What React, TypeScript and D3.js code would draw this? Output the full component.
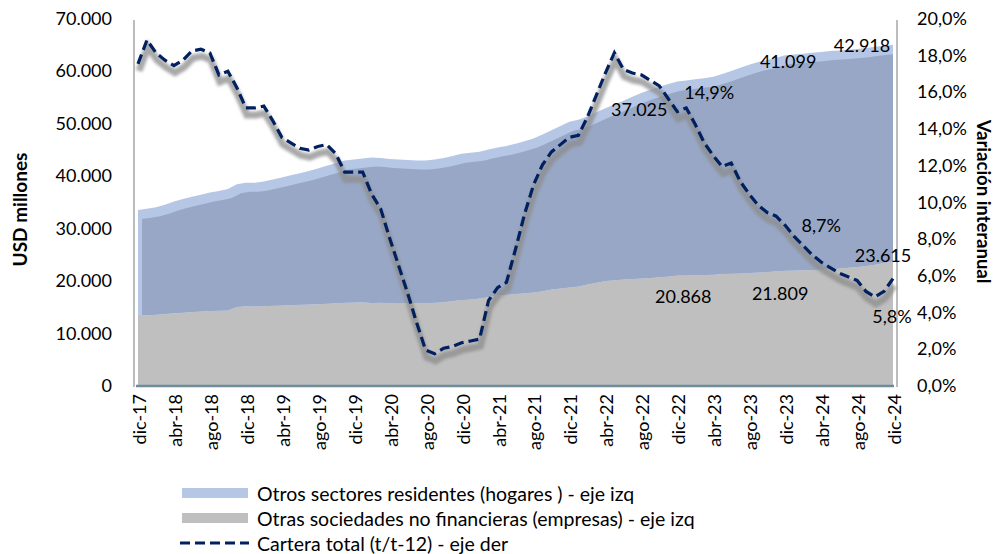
import * as d3 from "d3";

// Cartera por sector, mensual dic-17 .. dic-24 (USD millones) y variación t/t-12 (%)
const MESES = ["ene", "feb", "mar", "abr", "may", "jun", "jul", "ago", "sep", "oct", "nov", "dic"];
const periodos: string[] = [];
for (let k = 0; k < 85; k++) {
  const m = (11 + k) % 12;
  const a = 17 + Math.floor((11 + k) / 12);
  periodos.push(`${MESES[m]}-${a}`);
}

const empresas = [
  13350, 13300, 13400, 13550, 13700, 13800, 13900, 14000, 14100, 14150, 14200, 14900,
  15000, 14950, 15000, 15100, 15150, 15200, 15300, 15350, 15400, 15500, 15600, 15700,
  15750, 15800, 15650, 15700, 15600, 15550, 15600, 15650, 15600, 15700, 15800, 16000,
  16200, 16300, 16500, 16800, 17100, 17200, 17350, 17500, 17650, 17900, 18200, 18400,
  18600, 18800, 19150, 19500, 19850, 20000, 20100, 20200, 20300, 20400, 20550, 20700,
  20868, 20900, 20950, 21000, 21050, 21150, 21200, 21250, 21350, 21450, 21550, 21700,
  21809, 21850, 21900, 21950, 22000, 22100, 22200, 22350, 22500, 22700, 22950, 23250,
  23615,
];

const hogares = [
  20050, 20300, 20500, 20850, 21300, 21700, 22000, 22300, 22600, 22850, 23200, 23400,
  23600, 23650, 23800, 24100, 24450, 24800, 25100, 25450, 25900, 26300, 26700, 27100,
  27250, 27400, 27750, 27600, 27500, 27450, 27300, 27150, 27200, 27300, 27500, 27700,
  27900, 28000, 28000, 28100, 28200, 28400, 28650, 29000, 29350, 29900, 30400, 31000,
  31600, 31800, 32050, 32500, 32950, 33500, 34100, 34800, 35400, 35900, 36350, 36700,
  37025, 37200, 37350, 37500, 37750, 38150, 38700, 39250, 39750, 40150, 40450, 40700,
  41099, 41200, 41300, 41400, 41500, 41600, 41600, 41600, 41600, 41600, 41550, 41450,
  41300,
];

const variacion = [
  17.5, 18.8, 18.1, 17.7, 17.4, 17.7, 18.2, 18.3, 18.1, 16.9, 17.1, 16.2,
  15.1, 15.1, 15.2, 14.4, 13.5, 13.2, 12.9, 12.8, 13.0, 13.1, 12.6, 11.6,
  11.6, 11.6, 10.4, 9.6, 8.0, 6.5, 5.0, 3.4, 1.9, 1.7, 2.0, 2.1,
  2.3, 2.4, 2.5, 4.6, 5.3, 5.6, 7.4, 9.3, 10.9, 12.0, 12.7, 13.1,
  13.5, 13.6, 14.6, 15.8, 17.0, 18.1, 17.2, 17.0, 16.9, 16.6, 16.3, 15.6,
  14.9, 15.1, 14.2, 13.2, 12.5, 11.9, 12.1, 11.1, 10.4, 9.8, 9.4, 9.2,
  8.7, 8.1, 7.6, 7.1, 6.7, 6.4, 6.1, 5.9, 5.7, 5.1, 4.8, 5.1,
  5.8,
];

const ticksIzq = [0, 10000, 20000, 30000, 40000, 50000, 60000, 70000];
const ticksDer = [0, 2, 4, 6, 8, 10, 12, 14, 16, 18, 20];

const idxEtiquetas = [60, 72, 84];
const etiquetasHogares = ["37.025", "41.099", "42.918"];
const etiquetasEmpresas = ["20.868", "21.809", "23.615"];
const etiquetasVariacion = ["14,9%", "8,7%", "5,8%"];

const leyenda = [
  "Otros sectores residentes (hogares ) - eje izq",
  "Otras sociedades no financieras (empresas) - eje izq",
  "Cartera total (t/t-12) - eje der",
];

const FONT = "Lato, 'Open Sans', sans-serif";

export default function App() {
  const W = 1000, H = 554;
  const left = 134, right = 897, top = 18, bottom = 385;

  const x = d3.scalePoint<string>().domain(periodos).range([138, 893]);
  const yL = d3.scaleLinear().domain([0, 70000]).range([bottom, top]);
  const yR = d3.scaleLinear().domain([0, 20]).range([bottom, top]);

  const serie = periodos.map((p, i) => ({
    p,
    emp: empresas[i],
    tot: empresas[i] + hogares[i],
    v: variacion[i],
  }));
  type D = (typeof serie)[number];

  const areaEmp = d3.area<D>().x(d => x(d.p)!).y0(yL(0)).y1(d => yL(d.emp))(serie)!;
  const areaHog = d3.area<D>().x(d => x(d.p)!).y0(d => yL(d.emp)).y1(d => yL(d.tot))(serie)!;
  const linea = d3.line<D>().x(d => x(d.p)!).y(d => yR(d.v))(serie)!;

  // offsets of the data labels relative to their point
  const offHog = [[-38, 28], [3, 6], [-31, 0]];
  const offEmp = [[6, 20], [-5, 22], [-10, -6]];
  const offVar = [[32, -20], [36, 0], [-1, 37]];

  const txt = { fontFamily: FONT, fontSize: 17, fill: "#000" } as const;

  return (
    <svg width={W} height={H} style={{ position: "absolute", left: 0, top: 0, background: "#fff" }}>
      <defs>
        <clipPath id="clipHog">
          <path d={areaHog} />
        </clipPath>
        <filter id="sombra" x="-5%" y="-5%" width="110%" height="120%">
          <feGaussianBlur stdDeviation="1.8" />
        </filter>
      </defs>

      {/* areas */}
      <path d={areaEmp} fill="#bfbfbf" />
      <path d={areaHog} fill="#b6c7e6" />
      <g clipPath="url(#clipHog)">
        <g transform="translate(4,9)">
          <path d={areaHog} fill="#97a7c5" />
        </g>
      </g>

      {/* axes frame */}
      <line x1={left} x2={left} y1={top + 2} y2={bottom + 2} stroke="#a6a6a6" strokeWidth={1.5} />
      <line x1={right} x2={right} y1={top + 2} y2={bottom + 2} stroke="#a6a6a6" strokeWidth={1.5} />
      <line x1={left + 2} x2={right - 3} y1={bottom + 1} y2={bottom + 1} stroke="#6f8c9b" strokeWidth={2.5} />

      {/* line with shadow */}
      <path d={linea} fill="none" stroke="#8c8c8c" strokeOpacity={0.75} strokeWidth={7}
        transform="translate(1,7)" filter="url(#sombra)" />
      <path d={linea} fill="none" stroke="#002060" strokeWidth={3.2} strokeDasharray="10 5" />

      {/* left axis */}
      {ticksIzq.map(t => (
        <text key={t} x={112} y={yL(t)} textAnchor="end" dominantBaseline="central" {...txt} fontSize={18}>
          {d3.format(",")(t).replace(/,/g, ".")}
        </text>
      ))}
      <text transform={`translate(19,${(top + bottom) / 2 + 8}) rotate(-90)`} textAnchor="middle"
        dominantBaseline="central" {...txt} fontSize={19} fontWeight="bold">USD millones</text>

      {/* right axis */}
      {ticksDer.map(t => (
        <text key={t} x={917} y={yR(t)} dominantBaseline="central" {...txt} fontSize={18}>
          {t.toFixed(1).replace(".", ",")}%
        </text>
      ))}
      <text transform={`translate(984,${(top + bottom) / 2}) rotate(90)`} textAnchor="middle"
        dominantBaseline="central" {...txt} fontSize={18.5} fontWeight="bold">Variación interanual</text>

      {/* x labels */}
      {periodos.filter((_, i) => i % 4 === 0).map(p => (
        <text key={p} transform={`translate(${x(p)! + 1},${bottom + 9}) rotate(-90)`} textAnchor="end"
          dominantBaseline="central" {...txt} fontSize={18}>{p}</text>
      ))}

      {/* data labels */}
      {idxEtiquetas.map((i, k) => {
        const d = serie[i];
        return (
          <g key={i}>
            <text x={x(d.p)! + offHog[k][0]} y={yL(d.tot) + offHog[k][1]} textAnchor="middle"
              dominantBaseline="central" {...txt} fontSize={18}>{etiquetasHogares[k]}</text>
            <text x={x(d.p)! + offEmp[k][0]} y={yL(d.emp) + offEmp[k][1]} textAnchor="middle"
              dominantBaseline="central" {...txt} fontSize={18}>{etiquetasEmpresas[k]}</text>
            <text x={x(d.p)! + offVar[k][0]} y={yR(d.v) + offVar[k][1]} textAnchor="middle"
              dominantBaseline="central" {...txt} fontSize={18}>{etiquetasVariacion[k]}</text>
          </g>
        );
      })}

      {/* legend */}
      {leyenda.map((l, i) => {
        const cy = 493 + i * 25;
        return (
          <g key={l}>
            {i === 0 && <rect x={182} y={cy - 5} width={66} height={10} fill="#b6c7e6" />}
            {i === 1 && <rect x={182} y={cy - 5} width={66} height={10} fill="#bfbfbf" />}
            {i === 2 && <line x1={180} x2={249} y1={cy} y2={cy} stroke="#002060" strokeWidth={3.2} strokeDasharray="10 5" />}
            <text x={257} y={cy} dominantBaseline="central" {...txt} fontSize={19.5}>{l}</text>
          </g>
        );
      })}
    </svg>
  );
}
